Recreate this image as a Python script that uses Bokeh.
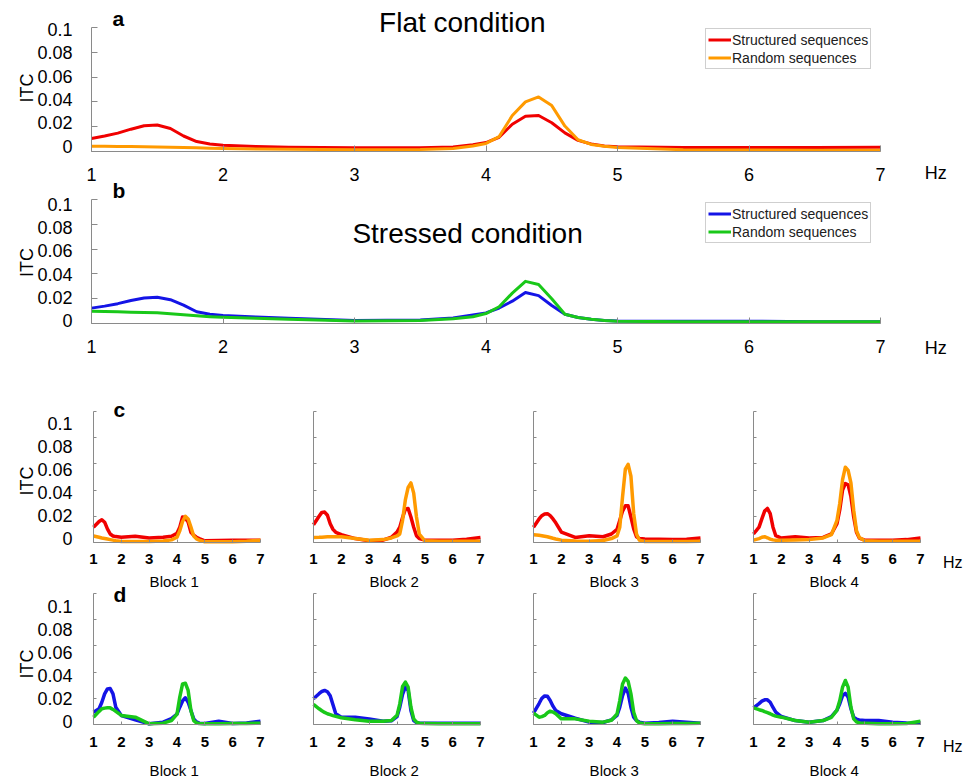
from bokeh.plotting import figure
from bokeh.models import (FixedTicker, NumeralTickFormatter, CustomJSTickFormatter,
                          Range1d, LinearAxis, Label, Legend, LegendItem)
from bokeh.embed import file_html
from bokeh.resources import INLINE

FONT = "Liberation Sans"
AXIS_GREY = "#8a8a8a"
RED, ORANGE, BLUE, GREEN = "#f00000", "#ff9a00", "#1414e6", "#19c819"
W, H = 963, 778

# ---------------- data ----------------
X_TICKS = [1, 2, 3, 4, 5, 6, 7]
Y_TICKS = [0, 0.02, 0.04, 0.06, 0.08, 0.1]

FREQ_MAIN = [1.0, 1.1, 1.2, 1.3, 1.4, 1.5, 1.6, 1.7, 1.8, 1.9,
             2.0, 2.25, 2.5, 3.0, 3.5, 3.75, 3.9,
             4.0, 4.1, 4.2, 4.3, 4.4, 4.5, 4.6, 4.7, 4.8, 4.9,
             5.0, 5.5, 6.0, 6.5, 7.0]

flat_structured = [0.0105, 0.0125, 0.0148, 0.0180, 0.0208, 0.0214, 0.0185, 0.0125, 0.0080, 0.0060,
                   0.0050, 0.0040, 0.0035, 0.0030, 0.0030, 0.0036, 0.0055,
                   0.0072, 0.0115, 0.0220, 0.0285, 0.0290, 0.0232, 0.0150, 0.0090, 0.0060, 0.0045,
                   0.0038, 0.0033, 0.0032, 0.0033, 0.0035]
flat_random = [0.0043, 0.0042, 0.0041, 0.0040, 0.0038, 0.0036, 0.0034, 0.0032, 0.0030, 0.0027,
               0.0024, 0.0020, 0.0018, 0.0015, 0.0016, 0.0025, 0.0045,
               0.0065, 0.0120, 0.0290, 0.0400, 0.0440, 0.0370, 0.0205, 0.0095, 0.0057, 0.0042,
               0.0032, 0.0015, 0.0012, 0.0010, 0.0010]
stressed_structured = [0.0124, 0.0140, 0.0160, 0.0185, 0.0205, 0.0212, 0.0192, 0.0148, 0.0095, 0.0075,
                       0.0065, 0.0052, 0.0043, 0.0025, 0.0028, 0.0045, 0.0068,
                       0.0085, 0.0125, 0.0180, 0.0250, 0.0225, 0.0145, 0.0075, 0.0048, 0.0035, 0.0025,
                       0.0020, 0.0018, 0.0018, 0.0015, 0.0015]
stressed_random = [0.0099, 0.0097, 0.0094, 0.0091, 0.0088, 0.0086, 0.0078, 0.0070, 0.0062, 0.0055,
                   0.0050, 0.0042, 0.0035, 0.0020, 0.0025, 0.0038, 0.0055,
                   0.0080, 0.0135, 0.0245, 0.0340, 0.0315, 0.0200, 0.0075, 0.0048, 0.0035, 0.0025,
                   0.0019, 0.0015, 0.0014, 0.0014, 0.0014]

FREQ_BLOCK = [1.0, 1.2, 1.3, 1.4, 1.5, 1.6, 1.7, 1.8,
              2.0, 2.5, 3.0, 3.5, 3.8,
              4.0, 4.1, 4.2, 4.3, 4.4, 4.5, 4.6, 4.7, 4.8,
              5.0, 5.5, 6.0, 6.5, 7.0]

BLOCK_LABELS = ["Block 1", "Block 2", "Block 3", "Block 4"]

flat_struct_block1 = [.0117, .0160, .0174, .0155, .0104, .0065, .0050, .0045, .0040, .0047, .0034, .0040, .0048,
                      .0070, .0117, .0195, .0185, .0156, .0078, .0055, .0040, .0030, .0013, .0015, .0018, .0018, .0018]
flat_rand_block1 = [.0050, .0040, .0034, .0030, .0026, .0022, .0018, .0014, .0008, .0008, .0008, .0012, .0020,
                    .0040, .0090, .0160, .0200, .0180, .0117, .0050, .0028, .0018, .0005, .0005, .0006, .0010, .0018]
flat_struct_block2 = [.0135, .0200, .0230, .0232, .0208, .0143, .0100, .0078, .0060, .0030, .0013, .0018, .0040,
                      .0080, .0117, .0190, .0255, .0260, .0195, .0117, .0052, .0030, .0018, .0018, .0018, .0025, .0039]
flat_rand_block2 = [.0039, .0040, .0041, .0042, .0043, .0044, .0044, .0044, .0044, .0030, .0018, .0022, .0035,
                    .0050, .0065, .0169, .0325, .0420, .0455, .0377, .0195, .0065, .0013, .0010, .0010, .0010, .0010]
flat_struct_block3 = [.0117, .0180, .0205, .0218, .0220, .0205, .0180, .0150, .0080, .0039, .0052, .0044, .0065,
                      .0100, .0169, .0240, .0280, .0280, .0195, .0104, .0044, .0030, .0026, .0024, .0022, .0024, .0034]
flat_rand_block3 = [.0060, .0055, .0052, .0048, .0044, .0038, .0032, .0027, .0018, .0012, .0010, .0015, .0030,
                    .0050, .0117, .0350, .0560, .0597, .0506, .0220, .0065, .0018, .0008, .0008, .0008, .0008, .0010]
flat_struct_block4 = [.0065, .0117, .0180, .0240, .0260, .0220, .0117, .0052, .0034, .0044, .0034, .0039, .0065,
                      .0143, .0250, .0400, .0450, .0440, .0350, .0195, .0078, .0034, .0018, .0018, .0018, .0022, .0034]
flat_rand_block4 = [.0018, .0030, .0040, .0044, .0036, .0026, .0020, .0018, .0018, .0020, .0023, .0035, .0060,
                    .0169, .0300, .0480, .0575, .0550, .0455, .0247, .0090, .0039, .0013, .0010, .0010, .0010, .0010]

stress_struct_block1 = [.0094, .0120, .0170, .0234, .0272, .0275, .0234, .0132, .0069, .0036, .0005, .0018, .0045,
                        .0080, .0132, .0180, .0204, .0170, .0107, .0043, .0020, .0010, .0008, .0025, .0008, .0012, .0025]
stress_rand_block1 = [.0056, .0100, .0120, .0125, .0127, .0127, .0115, .0100, .0069, .0056, .0005, .0010, .0030,
                      .0080, .0209, .0310, .0315, .0260, .0107, .0030, .0012, .0008, .0005, .0006, .0008, .0008, .0010]
stress_struct_block2 = [.0196, .0235, .0252, .0260, .0250, .0220, .0150, .0082, .0056, .0056, .0043, .0025, .0028,
                        .0060, .0132, .0230, .0285, .0260, .0107, .0030, .0015, .0010, .0010, .0010, .0010, .0010, .0010]
stress_rand_block2 = [.0153, .0120, .0105, .0092, .0082, .0075, .0068, .0062, .0051, .0036, .0025, .0025, .0030,
                      .0070, .0158, .0290, .0324, .0285, .0132, .0043, .0018, .0010, .0008, .0005, .0005, .0005, .0005]
stress_struct_block3 = [.0087, .0160, .0200, .0218, .0215, .0183, .0140, .0107, .0082, .0048, .0018, .0015, .0035,
                        .0070, .0132, .0220, .0278, .0240, .0132, .0056, .0030, .0018, .0010, .0015, .0025, .0018, .0010]
stress_rand_block3 = [.0087, .0056, .0060, .0069, .0090, .0102, .0095, .0082, .0043, .0043, .0025, .0018, .0032,
                      .0080, .0183, .0310, .0355, .0330, .0234, .0094, .0030, .0012, .0005, .0005, .0008, .0008, .0010]
stress_struct_block4 = [.0127, .0160, .0178, .0188, .0188, .0170, .0130, .0094, .0061, .0030, .0018, .0030, .0060,
                        .0110, .0158, .0220, .0238, .0209, .0120, .0056, .0040, .0035, .0030, .0030, .0018, .0012, .0010]
stress_rand_block4 = [.0127, .0113, .0107, .0098, .0090, .0082, .0072, .0064, .0056, .0030, .0018, .0030, .0055,
                      .0110, .0183, .0285, .0336, .0285, .0132, .0043, .0020, .0012, .0010, .0006, .0005, .0008, .0025]

flat_blocks = [(flat_struct_block1, flat_rand_block1), (flat_struct_block2, flat_rand_block2),
               (flat_struct_block3, flat_rand_block3), (flat_struct_block4, flat_rand_block4)]
stress_blocks = [(stress_struct_block1, stress_rand_block1), (stress_struct_block2, stress_rand_block2),
                 (stress_struct_block3, stress_rand_block3), (stress_struct_block4, stress_rand_block4)]

# ---------------- layout (pixel boxes of the panels) ----------------
MAIN_X = (91, 880)
BLOCK_X = [(93, 260), (313, 480), (533, 700), (753, 920)]
ROW_Y = {"a": (27, 151), "b": (199, 323), "c": (411, 542), "d": (593, 724)}
# where the y tick labels sit (value 0 / value 0.1) in each row
LABEL_Y = {"a": (145.7, 29.0), "b": (320.0, 204.0), "c": (538.3, 423.3), "d": (720.7, 605.7)}

p = figure(width=W, height=H, x_range=Range1d(0, W), y_range=Range1d(0, H),
           x_axis_type=None, y_axis_type=None, output_backend="svg", toolbar_location=None,
           min_border=0)
p.title.visible = False
p.outline_line_color = None
p.background_fill_color = "white"
p.border_fill_color = "white"


def x_range_for(left, right):
    u = (right - left) / 6.0
    return Range1d(1 - left / u, 1 + (W - left) / u)


def y_range_for(y0, y1):
    u = (y0 - y1) / 0.1
    return Range1d(-(H - y0) / u, y0 / u)


ranges_x = {"xa": x_range_for(*MAIN_X)}
for i, (l, r) in enumerate(BLOCK_X):
    ranges_x["xb%d" % i] = x_range_for(l, r)
ranges_y = {}
for k in ROW_Y:
    top, bottom = ROW_Y[k]
    ranges_y["y" + k] = y_range_for(bottom, top)
    ranges_y["yl" + k] = y_range_for(*LABEL_Y[k])
p.extra_x_ranges = ranges_x
p.extra_y_ranges = ranges_y


def add_axes(xr, yr, tick_len, xsize, xstyle, xstandoff, with_labels, label_standoff):
    xa = LinearAxis(x_range_name=xr, y_range_name=yr, fixed_location=0, bounds=(1, 7),
                    ticker=FixedTicker(ticks=X_TICKS))
    xa.axis_line_color = AXIS_GREY
    xa.major_tick_line_color = AXIS_GREY
    xa.minor_tick_line_color = None
    xa.major_tick_in = tick_len
    xa.major_tick_out = 0
    xa.major_label_text_font = FONT
    xa.major_label_text_font_size = xsize
    xa.major_label_text_font_style = xstyle
    xa.major_label_text_color = "black"
    xa.major_label_standoff = xstandoff
    p.add_layout(xa, "below")

    ya = LinearAxis(x_range_name=xr, y_range_name=yr, fixed_location=1, bounds=(0, 0.1),
                    ticker=FixedTicker(ticks=Y_TICKS),
                    formatter=CustomJSTickFormatter(code="return ''"))
    ya.axis_line_color = AXIS_GREY
    ya.major_tick_line_color = AXIS_GREY
    ya.minor_tick_line_color = None
    ya.major_tick_in = tick_len
    ya.major_tick_out = 0
    ya.major_label_standoff = 0
    p.add_layout(ya, "left")

    if with_labels:
        yl = LinearAxis(x_range_name=xr, y_range_name="yl" + yr[1:], fixed_location=1, bounds=(0, 0.1),
                        ticker=FixedTicker(ticks=Y_TICKS),
                        formatter=NumeralTickFormatter(format="0.[00]"))
        yl.axis_line_color = None
        yl.major_tick_line_color = None
        yl.minor_tick_line_color = None
        yl.major_tick_in = 0
        yl.major_tick_out = 0
        yl.major_label_text_font = FONT
        yl.major_label_text_font_size = "18px"
        yl.major_label_text_color = "black"
        yl.major_label_standoff = label_standoff
        yl.axis_label = "ITC"
        yl.axis_label_text_font = FONT
        yl.axis_label_text_font_size = "18px"
        yl.axis_label_text_font_style = "normal"
        yl.axis_label_text_color = "black"
        yl.axis_label_standoff = -3
        p.add_layout(yl, "left")


def add_text(xr, yr, x, y, text, size, bold=False, align="left"):
    p.add_layout(Label(x=x, y=y, x_range_name=xr, y_range_name=yr, text=text,
                       text_font=FONT, text_font_size=size,
                       text_font_style="bold" if bold else "normal", text_color="black",
                       text_align=align, text_baseline="alphabetic"))


def add_legend(renderers, loc):
    leg = Legend(items=[LegendItem(label="Structured sequences", renderers=[renderers[0]]),
                        LegendItem(label="Random sequences", renderers=[renderers[1]])],
                 location=loc)
    leg.label_text_font = FONT
    leg.label_text_font_size = "14px"
    leg.label_text_color = "#202020"
    leg.label_height = 17
    leg.glyph_height = 17
    leg.glyph_width = 23
    leg.label_standoff = 1
    leg.spacing = 1
    leg.padding = 2
    leg.margin = 0
    leg.border_line_color = "#a0a0a0"
    leg.border_line_width = 1
    leg.background_fill_color = "white"
    leg.background_fill_alpha = 1
    p.add_layout(leg)


# ---------------- panel a ----------------
add_axes("xa", "ya", 6, "18px", "normal", 16, True, 19)
ra1 = p.line(FREQ_MAIN, flat_structured, x_range_name="xa", y_range_name="ya",
             color=RED, line_width=3, line_join="round")
ra2 = p.line(FREQ_MAIN, flat_random, x_range_name="xa", y_range_name="ya",
             color=ORANGE, line_width=3, line_join="round")
add_legend([ra1, ra2], (705, H - 69))
add_text("xa", "ya", 3.82, 0.1041, "Flat condition", "28px", align="center")
add_text("xa", "ya", 1.16, 0.1076, "a", "21px", bold=True)
add_text("xa", "ya", 7.42, -0.0174, "Hz", "18px", align="center")

# ---------------- panel b ----------------
add_axes("xa", "yb", 6, "18px", "normal", 16, True, 19)
rb1 = p.line(FREQ_MAIN, stressed_structured, x_range_name="xa", y_range_name="yb",
             color=BLUE, line_width=3, line_join="round")
rb2 = p.line(FREQ_MAIN, stressed_random, x_range_name="xa", y_range_name="yb",
             color=GREEN, line_width=3, line_join="round")
add_legend([rb1, rb2], (705, H - 243))
add_text("xa", "yb", 3.86, 0.0726, "Stressed condition", "28px", align="center")
add_text("xa", "yb", 1.16, 0.1076, "b", "21px", bold=True)
add_text("xa", "yb", 7.42, -0.0198, "Hz", "18px", align="center")


# ---------------- panels c / d ----------------
def block_row(blocks, colors, yr, letter, letter_y, block_y, hz_y, tick_standoff):
    for i, (s, r) in enumerate(blocks):
        xr = "xb%d" % i
        add_axes(xr, yr, 3, "15px", "bold", tick_standoff, i == 0, 21)
        p.line(FREQ_BLOCK, s, x_range_name=xr, y_range_name=yr,
               color=colors[0], line_width=3.5, line_join="round")
        p.line(FREQ_BLOCK, r, x_range_name=xr, y_range_name=yr,
               color=colors[1], line_width=3.5, line_join="round")
        add_text(xr, yr, 3.9, block_y, BLOCK_LABELS[i], "15px", align="center")
        if i == 0:
            add_text(xr, yr, 1.72, letter_y, letter, "21px", bold=True)
        if i == 3:
            add_text(xr, yr, 8.16, hz_y, "Hz", "16px", align="center")


block_row(flat_blocks, (RED, ORANGE), "yc", "c", 0.1015, -0.0296, -0.0156, 11)
block_row(stress_blocks, (BLUE, GREEN), "yd", "d", 0.0991, -0.0350, -0.0171, 12)

with open("out.html", "w") as f:
    f.write(file_html(p, INLINE))
